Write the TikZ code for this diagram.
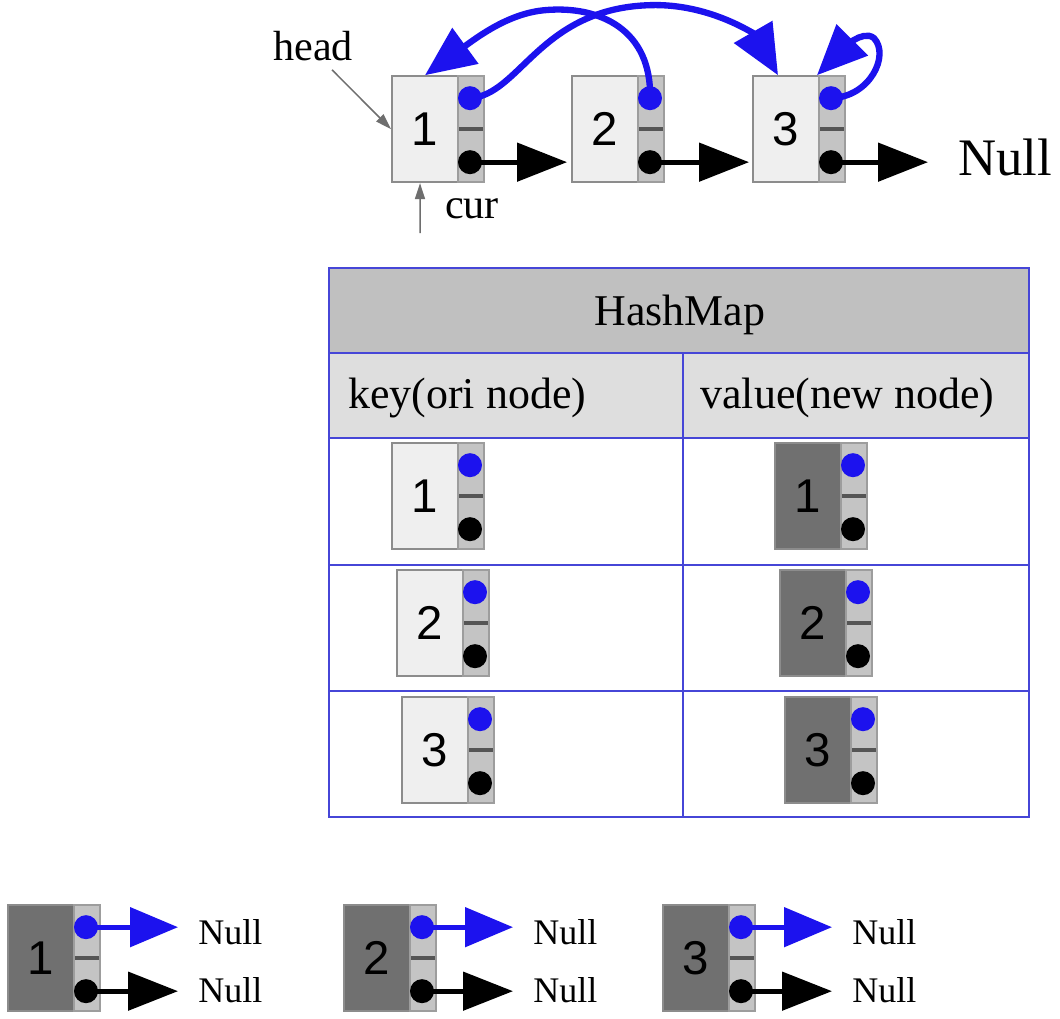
\documentclass[tikz,border=0pt]{standalone}
\usepackage{fontspec}
\setmainfont{Liberation Serif}
\newfontfamily\numfont{Liberation Sans}
\usetikzlibrary{arrows.meta,calc}
\definecolor{ptrblue}{RGB}{28,18,238}
\definecolor{tblblue}{RGB}{70,70,215}
\definecolor{lightbox}{RGB}{239,239,239}
\definecolor{darkbox}{RGB}{112,112,112}
\definecolor{stripc}{RGB}{196,196,196}
\definecolor{edgec}{RGB}{140,140,140}
\definecolor{dashc}{RGB}{85,85,85}
\definecolor{hdrgray}{RGB}{192,192,192}
\definecolor{subgray}{RGB}{222,222,222}
\definecolor{lblgray}{RGB}{110,110,110}
\tikzset{
  databox/.style={draw=edgec, line width=1.1pt, minimum width=1.32cm, minimum height=2.12cm, inner sep=0pt, font=\numfont\fontsize{27}{27}\selectfont},
  stripbox/.style={draw=edgec!85, fill=stripc, line width=0.9pt, minimum width=0.52cm, minimum height=2.12cm, inner sep=0pt},
  blackptr/.style={line width=2.8pt, -{Triangle[length=1cm,width=0.76cm]}},
  blueflat/.style={ptrblue, line width=2.8pt, -{Triangle[length=0.96cm,width=0.78cm]}},
  blueptr/.style={ptrblue, line width=3.6pt, -{Triangle[length=1.0cm,width=0.86cm]}},
  tagptr/.style={lblgray, line width=0.85pt, -{Triangle[length=0.32cm,width=0.2cm]}},
  cellsty/.style={draw=tblblue, line width=1.1pt, inner sep=0pt},
  tbltext/.style={font=\fontsize{25}{30}\selectfont, inner sep=0pt, anchor=base west},
  smallnull/.style={font=\fontsize{20.5}{24}\selectfont, inner sep=0pt, anchor=base west},
  lbltext/.style={font=\fontsize{24}{28}\selectfont, anchor=base},
}
\newcommand\listnode[5]{%
  \node[databox, fill=#4] (#1) at ({#2+33},{#3+53}) {#5};
  \node[stripbox] (#1s) at ({#2+79},{#3+53}) {};
  \coordinate (#1p) at ({#2+78},{#3+22});
  \coordinate (#1n) at ({#2+78},{#3+86});
  \fill[dashc] ({#2+67},{#3+51}) rectangle ({#2+91},{#3+55});
}
\newcommand\ptrdots[1]{%
  \fill[ptrblue] (#1p) circle (0.24cm);
  \fill[black] (#1n) circle (0.24cm);
}
\begin{document}
\begin{tikzpicture}[x=0.02cm, y=-0.02cm]
\fill[white] (0,0) rectangle (1060,1018);
% ---------- table ----------
\node[cellsty, fill=hdrgray, minimum width=14cm, minimum height=1.7cm] (hm) at (679,310.5) {};
\node[cellsty, fill=subgray, minimum width=7.08cm, minimum height=1.7cm] (kh) at (506,395.5) {};
\node[cellsty, fill=subgray, minimum width=6.92cm, minimum height=1.7cm] (vh) at (856,395.5) {};
\node[cellsty, minimum width=7.08cm, minimum height=2.54cm] (kr1) at (506,501.5) {};
\node[cellsty, minimum width=6.92cm, minimum height=2.54cm] (vr1) at (856,501.5) {};
\node[cellsty, minimum width=7.08cm, minimum height=2.52cm] (kr2) at (506,628) {};
\node[cellsty, minimum width=6.92cm, minimum height=2.52cm] (vr2) at (856,628) {};
\node[cellsty, minimum width=7.08cm, minimum height=2.52cm] (kr3) at (506,754) {};
\node[cellsty, minimum width=6.92cm, minimum height=2.52cm] (vr3) at (856,754) {};
\node[tbltext] (hmt) at (594,325) {HashMap};
\node[tbltext] (kht) at (348,408) {key(ori node)};
\node[tbltext] (vht) at (700,408) {value(new node)};
\listnode{k1}{392}{443}{lightbox}{1}
\listnode{v1}{775}{443}{darkbox}{1}
\listnode{k2}{397}{570}{lightbox}{2}
\listnode{v2}{780}{570}{darkbox}{2}
\listnode{k3}{402}{697}{lightbox}{3}
\listnode{v3}{785}{697}{darkbox}{3}
\ptrdots{k1}\ptrdots{v1}\ptrdots{k2}\ptrdots{v2}\ptrdots{k3}\ptrdots{v3}
% ---------- top list ----------
\listnode{a1}{392}{76}{lightbox}{1}
\listnode{a2}{572}{76}{lightbox}{2}
\listnode{a3}{753}{76}{lightbox}{3}
\node[font=\fontsize{30}{36}\selectfont, inner sep=0pt, anchor=base west] (nulltop) at (958,175) {Null};
\draw[blackptr] (a1n) -- ([xshift=-0.08cm]a2.west |- a1n);
\draw[blackptr] (a2n) -- ([xshift=-0.06cm]a3.west |- a2n);
\draw[blackptr] (a3n) -- ([xshift=-0.6cm]nulltop.west |- a3n);
\draw[blueptr] (a1p) .. controls (520,95) and (540,8) .. (650,5) .. controls (710,3) and (755,35) .. ([xshift=-0.16cm]a3.north);
\draw[blueptr] (a2p) .. controls (652,30) and (600,5) .. (545,10) .. controls (510,13) and (480,35) .. (a1.north);
\draw[blueptr] (a3p) .. controls (870,97) and (890,55) .. (874,38) .. controls (862,28) and (840,52) .. ([xshift=0.62cm]a3.north);
\ptrdots{a1}\ptrdots{a2}\ptrdots{a3}
\node[lbltext] (head) at (313,60) {head};
\draw[tagptr] ([xshift=0.38cm,yshift=-0.06cm]head.south) -- (a1.west);
\node[lbltext] (cur) at (472,218) {cur};
\coordinate (curtail) at (420,233);
\draw[tagptr] (curtail) -- ([xshift=-0.1cm]a1.south);
% ---------- bottom copies ----------
\listnode{b1}{8}{905}{darkbox}{1}
\listnode{b2}{344}{905}{darkbox}{2}
\listnode{b3}{663}{905}{darkbox}{3}
\node[smallnull] (n1a) at (198,944) {Null};
\node[smallnull] (n1b) at (198,1002) {Null};
\node[smallnull] (n2a) at (533,944) {Null};
\node[smallnull] (n2b) at (533,1002) {Null};
\node[smallnull] (n3a) at (852,944) {Null};
\node[smallnull] (n3b) at (852,1002) {Null};
\draw[blueflat] (b1p) -- ([xshift=-0.4cm]n1a.west |- b1p);
\draw[blackptr] (b1n) -- ([xshift=-0.4cm]n1b.west |- b1n);
\draw[blueflat] (b2p) -- ([xshift=-0.4cm]n2a.west |- b2p);
\draw[blackptr] (b2n) -- ([xshift=-0.4cm]n2b.west |- b2n);
\draw[blueflat] (b3p) -- ([xshift=-0.4cm]n3a.west |- b3p);
\draw[blackptr] (b3n) -- ([xshift=-0.4cm]n3b.west |- b3n);
\ptrdots{b1}\ptrdots{b2}\ptrdots{b3}
\end{tikzpicture}
\end{document}
